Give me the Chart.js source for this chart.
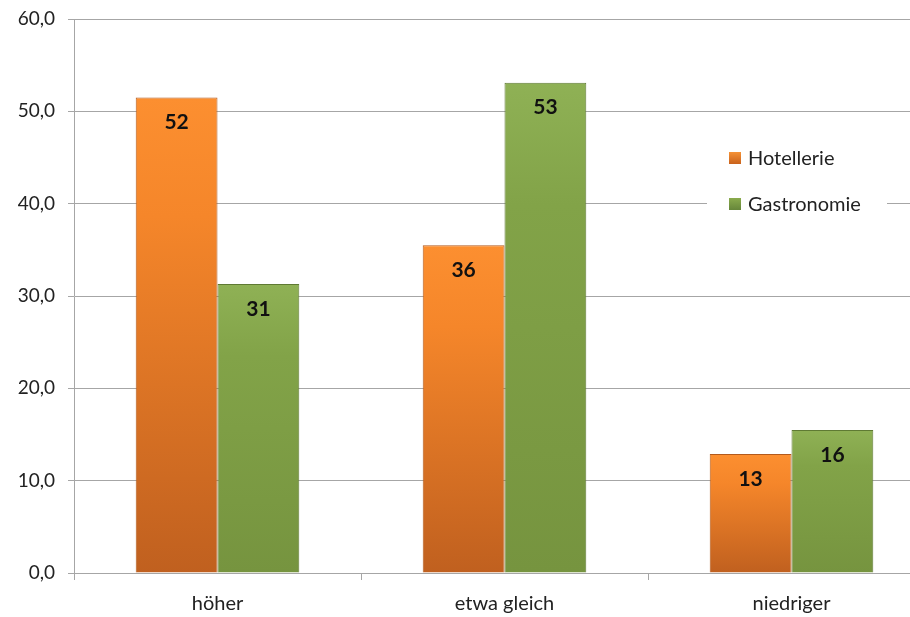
<!DOCTYPE html>
<html>
<head>
<meta charset="utf-8">
<script src="https://cdn.jsdelivr.net/npm/chart.js@4"></script>
<style>
  html, body { margin:0; padding:0; background:#fff; overflow:hidden; }
  #wrap { width:936px; height:617px; }
</style>
</head>
<body>
<div id="wrap"><canvas id="chart" width="936" height="617"></canvas></div>
<script>
// categories and values (percent)
const categories = ['höher', 'etwa gleich', 'niedriger'];
const hotellerie = [51.5, 35.5, 12.9];
const gastronomie = [31.3, 53.1, 15.5];
const seriesNames = ['Hotellerie', 'Gastronomie'];

const FONT = 'Lato, "Open Sans", sans-serif';

// gradient per bar, from its top to the axis
function barGradient(ctx, top, mid, bottom) {
  const chart = ctx.chart;
  const area = chart.chartArea;
  if (!area || ctx.type !== 'data') return mid;
  const y0 = chart.scales.y.getPixelForValue(ctx.raw);
  const g = chart.ctx.createLinearGradient(0, y0, 0, area.bottom);
  g.addColorStop(0, top);
  g.addColorStop(0.25, mid);
  g.addColorStop(1, bottom);
  return g;
}

// value labels inside the top of each bar
const valueLabels = {
  id: 'valueLabels',
  afterDatasetsDraw(chart) {
    const ctx = chart.ctx;
    ctx.save();
    ctx.font = 'bold 21px ' + FONT;
    ctx.fillStyle = '#111';
    ctx.textAlign = 'center';
    ctx.textBaseline = 'middle';
    chart.data.datasets.forEach((ds, i) => {
      chart.getDatasetMeta(i).data.forEach((bar, j) => {
        ctx.fillText(Math.round(ds.data[j]), bar.x, bar.y + 25);
      });
    });
    ctx.restore();
  }
};

// legend at the right, over the gridlines
const sideLegend = {
  id: 'sideLegend',
  afterDraw(chart) {
    const ctx = chart.ctx;
    ctx.save();
    ctx.fillStyle = '#fff';
    ctx.fillRect(707, 138, 180, 82);
    const cols = [['#f59236', '#c9621c'], ['#8aab4c', '#66863a']];
    chart.data.datasets.forEach((ds, i) => {
      const y = 158 + i * 46;
      const g = ctx.createLinearGradient(0, y - 6, 0, y + 6);
      g.addColorStop(0, cols[i][0]);
      g.addColorStop(1, cols[i][1]);
      ctx.fillStyle = g;
      ctx.fillRect(729, y - 6, 12, 12);
      ctx.fillStyle = '#222';
      ctx.font = '20px ' + FONT;
      ctx.textBaseline = 'middle';
      ctx.fillText(ds.label, 748, y + 1);
    });
    ctx.restore();
  }
};

new Chart(document.getElementById('chart'), {
  type: 'bar',
  data: {
    labels: categories,
    datasets: [
      {
        label: seriesNames[0],
        data: hotellerie,
        backgroundColor: c => barGradient(c, '#fc8f30', '#f5862a', '#c0601f'),
        borderColor: '#b35a1c',
        borderWidth: 1
      },
      {
        label: seriesNames[1],
        data: gastronomie,
        backgroundColor: c => barGradient(c, '#8fb155', '#82a348', '#76943f'),
        borderColor: '#5f7a33',
        borderWidth: 1
      }
    ]
  },
  options: {
    responsive: false,
    animation: false,
    layout: { padding: { top: 19, right: 1, bottom: 0, left: 0 } },
    categoryPercentage: 0.57,
    barPercentage: 1.0,
    plugins: { legend: { display: false }, tooltip: { enabled: false } },
    scales: {
      y: {
        min: 0, max: 60,
        ticks: {
          stepSize: 10,
          color: '#222',
          font: { size: 19, family: FONT },
          padding: 13,
          callback: v => v.toFixed(1).replace('.', ',')
        },
        grid: { color: '#a6a6a6', tickLength: 6 },
        border: { color: '#a6a6a6' },
        afterFit: s => { s.width = 74; s.paddingTop = 0; s.paddingBottom = 0; }
      },
      x: {
        ticks: { color: '#222', font: { size: 20, family: FONT }, padding: 12 },
        grid: { drawOnChartArea: false, color: '#a6a6a6', tickLength: 7 },
        border: { color: '#a6a6a6' },
        afterFit: s => { s.height = 44; }
      }
    }
  },
  plugins: [valueLabels, sideLegend]
});
</script>
</body>
</html>
